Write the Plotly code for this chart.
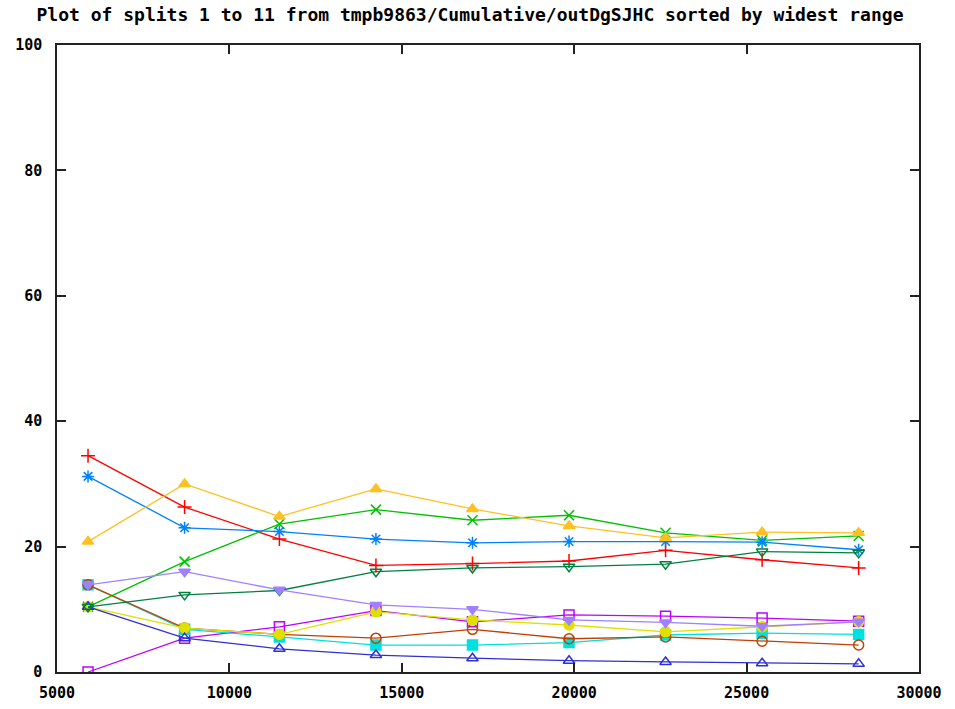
import plotly.graph_objects as go

# Sample sizes along the x axis
sizes = [5900, 8700, 11450, 14250, 17050, 19850, 22650, 25450, 28250]

# Percentage per split, one list per split
split1 = [34.5, 26.3, 21.2, 17.0, 17.3, 17.7, 19.4, 17.9, 16.6]
split2 = [10.4, 17.6, 23.6, 25.9, 24.2, 25.0, 22.2, 21.0, 21.7]
split3 = [31.2, 23.0, 22.4, 21.2, 20.6, 20.8, 20.8, 20.7, 19.5]
split4 = [0.0, 5.4, 7.2, 9.8, 8.0, 9.1, 8.9, 8.6, 8.1]
split5 = [13.9, 6.8, 5.6, 4.3, 4.3, 4.7, 5.9, 6.2, 6.0]
split6 = [13.9, 7.0, 6.0, 5.4, 6.8, 5.3, 5.6, 4.9, 4.3]
split7 = [10.4, 7.0, 6.0, 9.6, 8.3, 7.5, 6.4, 7.2, 8.0]
split8 = [10.4, 5.4, 3.7, 2.7, 2.2, 1.8, 1.6, 1.4, 1.3]
split9 = [20.8, 30.0, 24.8, 29.2, 26.0, 23.3, 21.4, 22.3, 22.2]
split10 = [10.4, 12.3, 13.0, 16.0, 16.6, 16.8, 17.2, 19.2, 19.0]
split11 = [13.9, 16.0, 13.1, 10.7, 10.0, 8.3, 7.9, 7.3, 8.0]

series = [
    (split1, "#ff0000", "cross-thin-open"),
    (split2, "#00c000", "x-thin-open"),
    (split3, "#0080ff", "asterisk-open"),
    (split4, "#c000ff", "square-open"),
    (split5, "#00e0e0", "square"),
    (split6, "#c04000", "circle-open"),
    (split7, "#e0e000", "circle"),
    (split8, "#3030d0", "triangle-up-open"),
    (split9, "#ffc020", "triangle-up"),
    (split10, "#008040", "triangle-down-open"),
    (split11, "#a080ff", "triangle-down"),
]

fig = go.Figure()
for i, (vals, color, sym) in enumerate(series, start=1):
    fig.add_trace(go.Scatter(
        x=sizes, y=vals, mode="lines+markers", name=f"split {i}",
        line=dict(color=color, width=1.3),
        marker=dict(symbol=sym, size=10, color=color,
                    line=dict(color=color, width=1.5)),
    ))

tick_font = dict(family="DejaVu Sans Mono", size=15, color="#000", weight="bold")
axis_common = dict(
    showgrid=False, zeroline=False, showline=True, linecolor="#222",
    linewidth=1.5, mirror="ticks", ticks="inside", ticklen=9,
    tickcolor="#222", tickwidth=1.5, tickfont=tick_font, automargin=False,
)

fig.update_layout(
    width=955, height=709,
    margin=dict(l=57, r=36, t=45, b=37),
    paper_bgcolor="white", plot_bgcolor="white",
    showlegend=False,
    title=dict(
        text="Plot of splits 1 to 11 from tmpb9863/Cumulative/outDgSJHC sorted by widest range",
        x=470 / 955, xanchor="center", xref="container",
        y=1 - 15 / 709, yanchor="middle", yref="container",
        font=dict(family="DejaVu Sans Mono", size=18, color="#000", weight="bold"),
    ),
    xaxis=dict(range=[5000, 30000], dtick=5000, tick0=5000, tickformat="d",
               ticklabelstandoff=6, **axis_common),
    yaxis=dict(range=[0, 100], dtick=20, tick0=0,
               ticklabelstandoff=10, **axis_common),
)

fig.write_html("out.html")
